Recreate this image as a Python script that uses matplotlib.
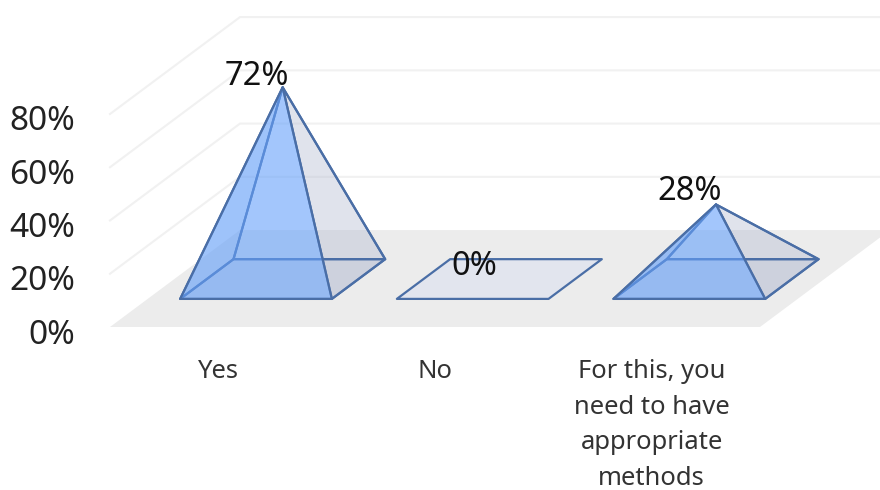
import matplotlib
matplotlib.use("Agg")
import matplotlib.pyplot as plt
from matplotlib.patches import Polygon
from matplotlib.transforms import ScaledTranslation

categories = ["Yes", "No", "For this, you\nneed to have\nappropriate\nmethods"]
values = [72, 0, 28]
value_ticks = [0, 20, 40, 60, 80]
tick_labels = ["0%", "20%", "40%", "60%", "80%"]

# layout constants of the oblique 3-D projection
W, H = 880, 490
AX_L, AX_R, AX_B, AX_T = 110, 760, 327, 114
SHEAR_X = 0.6     # category units per unit depth
SHEAR_Y = 36.4    # percent per unit depth
HALF_W = 0.35
D0, D1 = 0.29, 0.70
EDGE = "#4a6ea6"
FONT = "Noto Sans"

plt.rcParams["font.family"] = FONT
fig = plt.figure(figsize=(W / 100, H / 100), dpi=100, facecolor="white")
ax = fig.add_axes([AX_L / W, 1 - AX_B / H, (AX_R - AX_L) / W, (AX_B - AX_T) / H])
ax.set_xlim(0, 3)
ax.set_ylim(0, 80)
ax.patch.set_visible(False)
for s in ax.spines.values():
    s.set_visible(False)


def proj(x, depth, value):
    return (x + depth * SHEAR_X, value + depth * SHEAR_Y)


# floor
ax.add_patch(Polygon([proj(0, 0, 0), proj(3, 0, 0), proj(3, 1, 0), proj(0, 1, 0)],
                     closed=True, fc="#ececec", ec="none", clip_on=False, zorder=1))
# gridlines on side and back walls
for v in value_ticks[1:]:
    p = [proj(0, 0, v), proj(0, 1, v), proj(3, 1, v)]
    ax.plot([a for a, _ in p], [b for _, b in p], color="#f1f1f1", lw=1.5,
            clip_on=False, zorder=1, solid_joinstyle="miter")


def face(pts, fc, z):
    ax.add_patch(Polygon(pts, closed=True, fc=fc, ec=EDGE, lw=1.6, clip_on=False,
                         zorder=z, joinstyle="round"))


label_offsets_px = [(-26, -11), (-25, -13), (-26, -13)]
for i, (val, off) in enumerate(zip(values, label_offsets_px)):
    c = i + 0.5
    fl = proj(c - HALF_W, D0, 0)
    fr = proj(c + HALF_W, D0, 0)
    br = proj(c + HALF_W, D1, 0)
    bl = proj(c - HALF_W, D1, 0)
    apex = proj(c, (D0 + D1) / 2, val)
    if val > 0:
        face([fr, br, apex], (0.70, 0.73, 0.82, 0.40), 2)      # right face
        face([fl, fr, br, bl], (0.70, 0.73, 0.82, 0.22), 2.5)  # floor of pyramid
        face([bl, br, apex], (0.42, 0.64, 0.98, 0.0), 3)       # back face
        face([fl, bl, apex], (0.42, 0.58, 0.85, 0.08), 3)      # left face
        face([fl, fr, apex], (0.40, 0.63, 0.98, 0.60), 4)      # front face
    else:
        face([fl, fr, br, bl], "#e2e5ee", 2.5)
    ax.annotate(f"{val}%", xy=apex, xytext=(off[0] * 0.72, -off[1] * 0.72),
                textcoords="offset points", ha="center", va="center",
                fontsize=23.5, color="#111111", zorder=6, annotation_clip=False)

# axes labels
ax.set_yticks(value_ticks, tick_labels)
ax.set_xticks([i + 0.5 for i in range(len(categories))], categories)
ax.tick_params(axis="y", length=0, pad=25, labelsize=24, labelcolor="#222222")
ax.tick_params(axis="x", length=0, pad=23, labelsize=18.4, labelcolor="#333333")
for lab in ax.get_yticklabels():
    lab.set_transform(lab.get_transform() + ScaledTranslation(0, -4 / 100, fig.dpi_scale_trans))
for lab in ax.get_xticklabels():
    lab.set_linespacing(1.56)

fig.savefig("out.png", dpi=100, facecolor="white")
